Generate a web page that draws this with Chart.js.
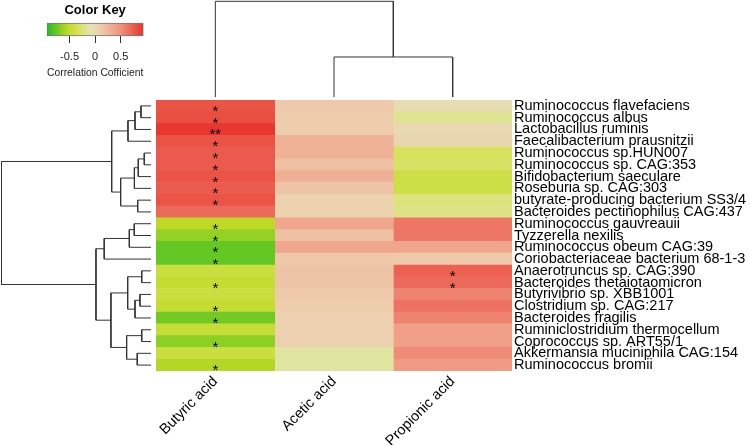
<!DOCTYPE html>
<html>
<head>
<meta charset="utf-8">
<script src="https://cdn.jsdelivr.net/npm/chart.js@4.4.1/dist/chart.umd.min.js"></script>
<style>
  html, body { margin: 0; padding: 0; background: #fff; }
  #wrap { position: relative; width: 750px; height: 445px; overflow: hidden; }
  canvas { position: absolute; }
</style>
</head>
<body>
<div id="wrap">
  <canvas id="main" width="750" height="445" style="left:0px;top:0px"></canvas>
  <canvas id="rowDendro" width="160" height="281" style="left:0px;top:95px"></canvas>
  <canvas id="colDendro" width="370" height="100" style="left:150px;top:0px"></canvas>
  <canvas id="key" width="190" height="90" style="left:0px;top:0px"></canvas>
</div>
<script>
// ---------------- DATA ----------------
const rowLabels = [
  'Ruminococcus flavefaciens', 'Ruminococcus albus', 'Lactobacillus ruminis',
  'Faecalibacterium prausnitzii', 'Ruminococcus sp.HUN007', 'Ruminococcus sp. CAG:353',
  'Bifidobacterium saeculare', 'Roseburia sp. CAG:303', 'butyrate-producing bacterium SS3/4',
  'Bacteroides pectinophilus CAG:437', 'Ruminococcus gauvreauii', 'Tyzzerella nexilis',
  'Ruminococcus obeum CAG:39', 'Coriobacteriaceae bacterium 68-1-3', 'Anaerotruncus sp. CAG:390',
  'Bacteroides thetaiotaomicron', 'Butyrivibrio sp. XBB1001', 'Clostridium sp. CAG:217',
  'Bacteroides fragilis', 'Ruminiclostridium thermocellum', 'Coprococcus sp. ART55/1',
  'Akkermansia muciniphila CAG:154', 'Ruminococcus bromii'
];
const colLabels = ['Butyric acid', 'Acetic acid', 'Propionic acid'];

const butyric   = [0.79, 0.81, 0.92, 0.79, 0.75, 0.75, 0.79, 0.75, 0.79, 0.68,
                   -0.53, -0.64, -0.77, -0.77, -0.43, -0.48, -0.43, -0.48, -0.73, -0.46, -0.66, -0.43, -0.56];
const acetic    = [0.13, 0.10, 0.10, 0.28, 0.28, 0.18, 0.30, 0.16, 0.06, 0.06,
                   0.36, 0.18, 0.36, 0.14, 0.16, 0.16, 0.13, 0.10, 0.08, 0.08, 0.08, -0.15, -0.15];
const propionic = [-0.03, -0.19, 0.00, 0.03, -0.32, -0.30, -0.40, -0.40, -0.24, -0.22,
                   0.62, 0.62, 0.36, 0.12, 0.72, 0.68, 0.56, 0.64, 0.56, 0.40, 0.40, 0.52, 0.43];

const sigButyric   = ['*','*','**','*','*','*','*','*','*','', '*','*','*','*','','*','','*','*','','*','','*'];
const sigAcetic    = ['','','','','','','','','','','','','','','','','','','','','','',''];
const sigPropionic = ['','','','','','','','','','','','','','','*','*','','','','','','',''];

// row dendrogram: [left, right, height]; leaves are row indices
const rowTree = [
  [[[[0, 1, 0.067], 2, 0.107], 3, 0.154],
   [[[[4, 5, 0.045], 6, 0.085], 7, 0.111], [8, 9, 0.089], 0.203], 0.263],
  [[[[10, 11, 0.112], 12, 0.145], 13, 0.313],
   [[[14, 15, 0.062], [[16, 17, 0.074], 18, 0.107], 0.156],
    [[19, 20, 0.062], [21, 22, 0.092], 0.163], 0.268], 0.368],
  1.0
];
// column dendrogram
const colTree = [0, [1, 2, 0.418], 1.0];

const keyMin = -0.94, keyMax = 0.94;
const keyTicks = [-0.5, 0, 0.5];

// ---------------- COLOUR RAMP ----------------
const rampStops = [
  [0.00, [34, 187, 34]],
  [0.22, [192, 218, 38]],
  [0.33, [214, 226, 92]],
  [0.45, [226, 228, 182]],
  [0.55, [238, 206, 174]],
  [0.75, [240, 150, 128]],
  [1.00, [232, 51, 42]]
];
function rampColor(v) {
  let t = (v - keyMin) / (keyMax - keyMin);
  t = Math.max(0, Math.min(1, t));
  for (let i = 1; i < rampStops.length; i++) {
    if (t <= rampStops[i][0]) {
      const [t0, c0] = rampStops[i - 1], [t1, c1] = rampStops[i];
      const f = (t - t0) / (t1 - t0);
      const c = c0.map((a, k) => Math.round(a + (c1[k] - a) * f));
      return `rgb(${c[0]},${c[1]},${c[2]})`;
    }
  }
  const c = rampStops[rampStops.length - 1][1];
  return `rgb(${c[0]},${c[1]},${c[2]})`;
}

Chart.defaults.font.family = "'Liberation Sans', Arial, sans-serif";
Chart.defaults.color = '#000';
Chart.defaults.animation = false;

// ---------------- MAIN HEATMAP ----------------
const columns = [butyric, acetic, propionic];
const sigs = [sigButyric, sigAcetic, sigPropionic];

const starPlugin = {
  id: 'stars',
  afterDatasetsDraw(chart) {
    const ctx = chart.ctx, xs = chart.scales.x, ys = chart.scales.y;
    ctx.save();
    ctx.fillStyle = '#000';
    ctx.font = "15px 'Liberation Sans', Arial, sans-serif";
    ctx.textAlign = 'center';
    ctx.textBaseline = 'alphabetic';
    sigs.forEach((col, ci) => {
      col.forEach((s, ri) => {
        if (!s) return;
        ctx.fillText(s, xs.getPixelForValue(ci + 0.5), ys.getPixelForValue(ri) + 10);
      });
    });
    ctx.restore();
  }
};

new Chart(document.getElementById('main'), {
  type: 'bar',
  data: {
    labels: rowLabels,
    datasets: columns.map((vals, ci) => ({
      label: colLabels[ci],
      data: vals.map(() => 1),
      backgroundColor: vals.map(rampColor),
      borderWidth: 0,
      barPercentage: 1,
      categoryPercentage: 1
    }))
  },
  options: {
    indexAxis: 'y',
    responsive: false,
    events: [],
    layout: { padding: { left: 156, top: 100, right: 0, bottom: 0 } },
    plugins: { legend: { display: false }, tooltip: { enabled: false } },
    scales: {
      x: {
        type: 'linear', stacked: true, min: 0, max: 3, position: 'bottom',
        grid: { display: false, drawTicks: false }, border: { display: false },
        afterBuildTicks(scale) { scale.ticks = colLabels.map((_, i) => ({ value: i + 0.5 })); },
        afterFit(scale) { scale.height = 74; },
        ticks: {
          autoSkip: false, minRotation: 45, maxRotation: 45, padding: 2,
          font: { size: 14.5 }, color: '#000',
          callback(v) { return colLabels[Math.floor(v)]; }
        }
      },
      y: {
        type: 'category', stacked: true, position: 'right',
        grid: { display: false, drawTicks: false }, border: { display: false },
        afterFit(scale) { scale.width = 238; },
        ticks: { autoSkip: false, padding: 2, font: { size: 14.5 }, color: '#000' }
      }
    }
  },
  plugins: [starPlugin]
});

// ---------------- DENDROGRAMS ----------------
function buildSegments(tree, segs) {
  if (typeof tree === 'number') return { pos: tree, h: 0 };
  const a = buildSegments(tree[0], segs), b = buildSegments(tree[1], segs), h = tree[2];
  segs.push([[a.pos, a.h], [a.pos, h], [b.pos, h], [b.pos, b.h]]);
  return { pos: (a.pos + b.pos) / 2, h };
}
const lineStyle = { showLine: true, borderColor: '#333', borderWidth: 1, pointRadius: 0, clip: 6, tension: 0 };

const rowSegs = []; buildSegments(rowTree, rowSegs);
new Chart(document.getElementById('rowDendro'), {
  type: 'scatter',
  data: { datasets: rowSegs.map(s => Object.assign({ data: s.map(p => ({ x: p[1], y: p[0] })) }, lineStyle)) },
  options: {
    responsive: false, events: [],
    layout: { padding: { left: 1.5, right: 9, top: 5, bottom: 5 } },
    plugins: { legend: { display: false }, tooltip: { enabled: false } },
    scales: {
      x: { type: 'linear', display: false, min: 0, max: 1, reverse: true },
      y: { type: 'linear', display: false, min: -0.5, max: rowLabels.length - 0.5, reverse: true }
    }
  }
});

const colSegs = []; buildSegments(colTree, colSegs);
new Chart(document.getElementById('colDendro'), {
  type: 'scatter',
  data: { datasets: colSegs.map(s => Object.assign({ data: s.map(p => ({ x: p[0] + 0.5, y: p[1] })) }, lineStyle)) },
  options: {
    responsive: false, events: [],
    layout: { padding: { left: 6, right: 8, top: 1.3, bottom: 3 } },
    plugins: { legend: { display: false }, tooltip: { enabled: false } },
    scales: {
      x: { type: 'linear', display: false, min: 0, max: colLabels.length },
      y: { type: 'linear', display: false, min: 0, max: 1 }
    }
  }
});

// ---------------- COLOR KEY ----------------
function keyGradient(context) {
  const chart = context.chart, area = chart.chartArea;
  if (!area) return '#ccc';
  const xs = chart.scales.x;
  const g = chart.ctx.createLinearGradient(xs.getPixelForValue(keyMin), 0, xs.getPixelForValue(keyMax), 0);
  rampStops.forEach(([t]) => g.addColorStop(t, rampColor(keyMin + t * (keyMax - keyMin))));
  return g;
}
new Chart(document.getElementById('key'), {
  type: 'bar',
  data: {
    labels: ['key'],
    datasets: [{ data: [[keyMin, keyMax]], backgroundColor: keyGradient, borderColor: '#777', borderWidth: 1,
      borderSkipped: false, barPercentage: 1, categoryPercentage: 1, clip: false }]
  },
  options: {
    indexAxis: 'y', responsive: false, events: [],
    layout: { padding: { left: 47, right: 46.7, top: 0, bottom: 6.4 } },
    plugins: {
      legend: { display: false }, tooltip: { enabled: false },
      title: { display: true, text: 'Color Key', font: { size: 13, weight: 'bold' }, color: '#000',
        padding: { top: 3, bottom: 4.4 } }
    },
    scales: {
      y: { display: false },
      x: {
        type: 'linear', min: keyMin, max: keyMax,
        afterBuildTicks(scale) { scale.ticks = keyTicks.map(v => ({ value: v })); },
        afterFit(scale) { scale.height = 47.6; },
        grid: { drawOnChartArea: false, tickLength: 7, color: '#333' },
        border: { display: false },
        ticks: { font: { size: 11 }, color: '#222', padding: 7, maxRotation: 0,
          callback(v) { return v === 0 ? '0' : String(v); } },
        title: { display: true, text: 'Correlation Cofficient', font: { size: 10.5 }, color: '#222', padding: { top: 2 } }
      }
    }
  }
});
</script>
</body>
</html>
